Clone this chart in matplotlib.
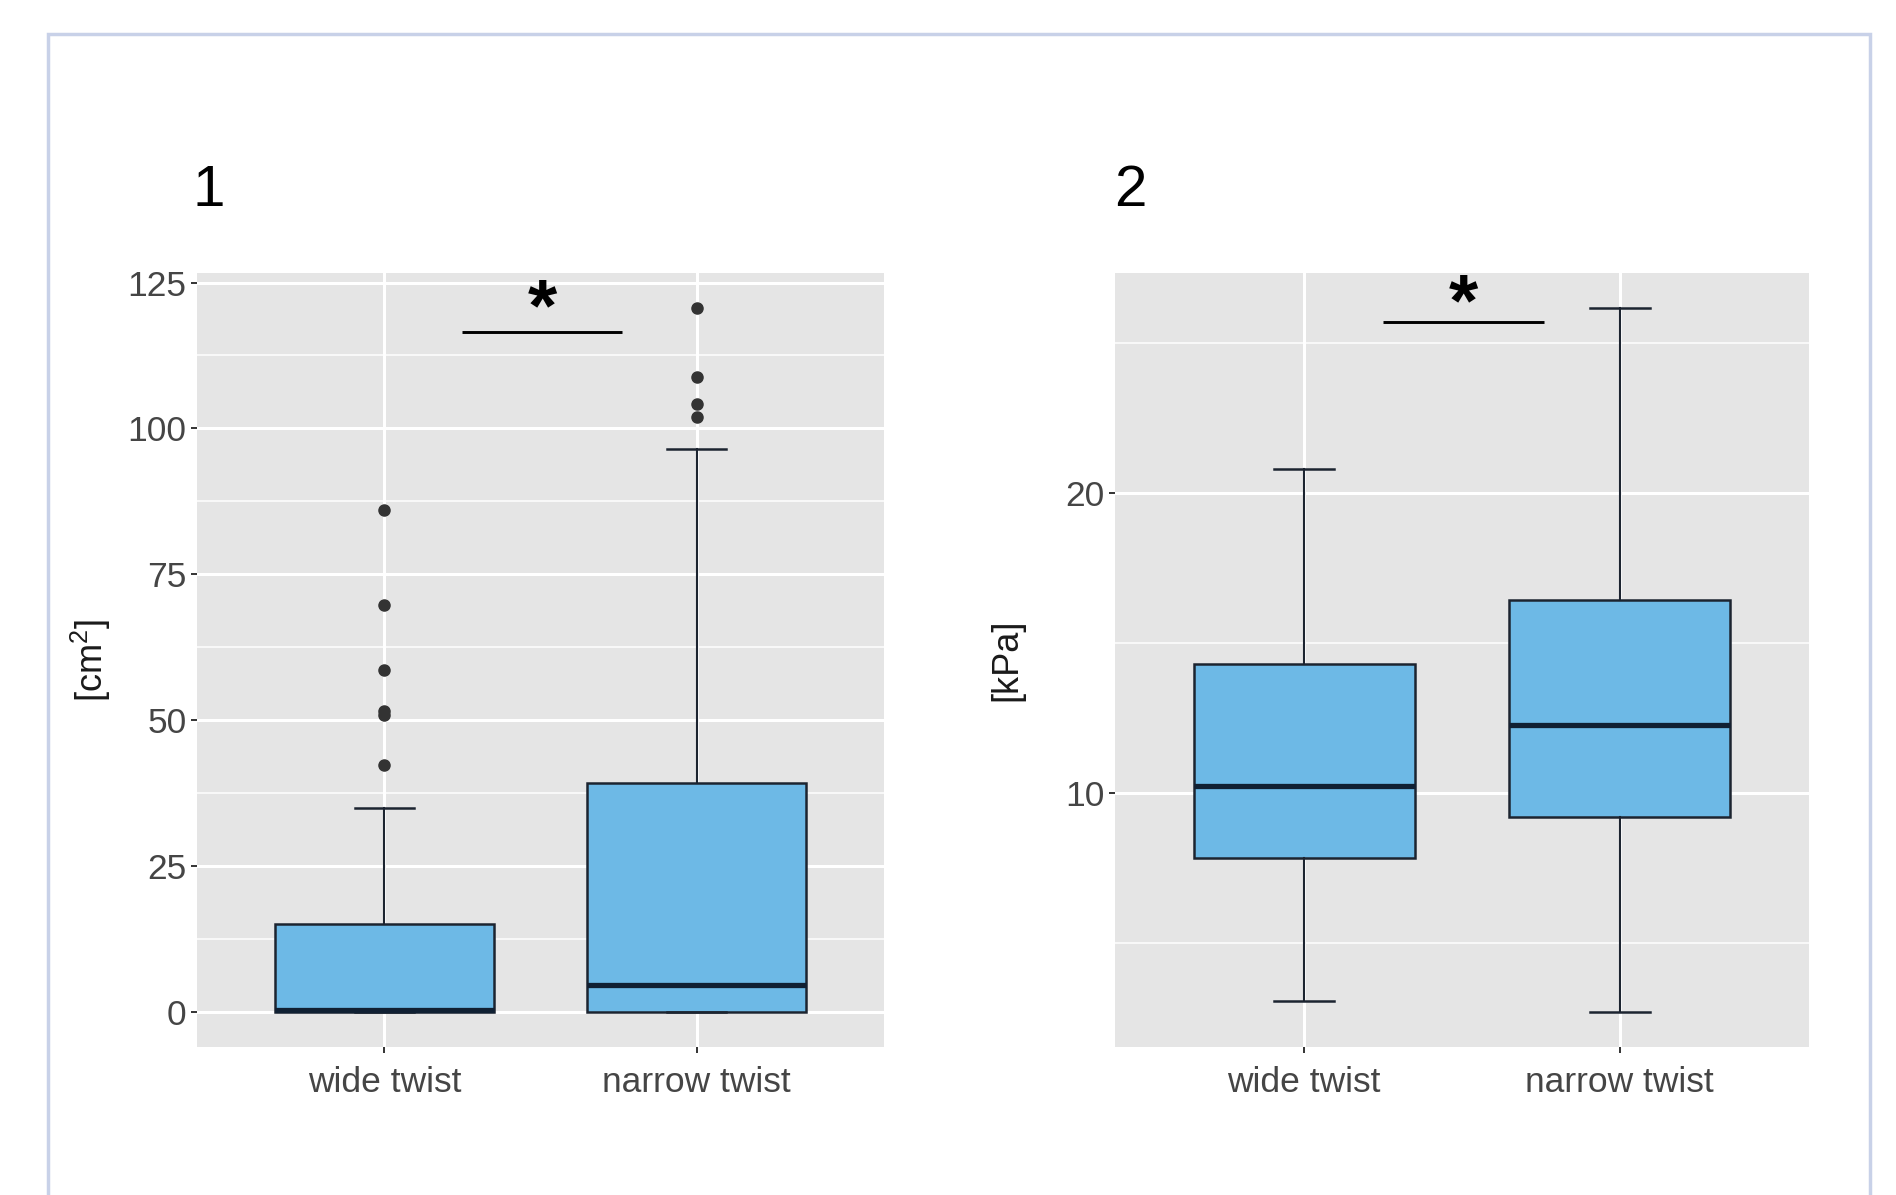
import numpy as np
import matplotlib
matplotlib.use("Agg")
import matplotlib.pyplot as plt
from matplotlib.patches import Rectangle

plt.rcParams["font.family"] = ["Liberation Sans", "DejaVu Sans"]
plt.rcParams["mathtext.fontset"] = "custom"
plt.rcParams["mathtext.rm"] = "Liberation Sans"
plt.rcParams["mathtext.default"] = "regular"

# ---- data ----
categories = ["wide twist", "narrow twist"]

# panel 1: area [cm^2]
area_q1 = [0.0, 0.0]
area_med = [0.25, 4.6]
area_q3 = [15.0, 39.2]
area_lo = [0.0, 0.0]
area_hi = [34.9, 96.4]
area_fliers = [[42.3, 50.9, 51.6, 58.6, 69.8, 86.0],
               [102.0, 104.2, 108.8, 120.6]]
area_ticks = [0, 25, 50, 75, 100, 125]
area_minor = [12.5, 37.5, 62.5, 87.5, 112.5]
area_sig_y = 116.6

# panel 2: pressure [kPa]
kpa_q1 = [7.82, 9.18]
kpa_med = [10.23, 12.27]
kpa_q3 = [14.3, 16.42]
kpa_lo = [3.06, 2.7]
kpa_hi = [20.78, 26.15]
kpa_fliers = [[], []]
kpa_ticks = [10, 20]
kpa_minor = [5, 15, 25]
kpa_sig_y = 25.68

BOX_FILL = "#6DB9E6"
BOX_EDGE = "#1c2430"
MED_COL = "#102033"
PANEL_BG = "#E5E5E5"


def make_stats(q1, med, q3, lo, hi, fliers):
    return [dict(q1=a, med=b, q3=c, whislo=d, whishi=e, fliers=f, label=n)
            for a, b, c, d, e, f, n in zip(q1, med, q3, lo, hi, fliers, categories)]


def draw_panel(ax, stats, ticks, minor, ylabel, label_x, sig_y, star_off):
    ax.set_facecolor(PANEL_BG)
    for s in ax.spines.values():
        s.set_visible(False)
    ax.set_axisbelow(True)

    pos = np.arange(1, len(stats) + 1)
    ax.bxp(stats, positions=pos, widths=0.7, capwidths=0.19, patch_artist=True,
           boxprops=dict(facecolor=BOX_FILL, edgecolor=BOX_EDGE, linewidth=1.8),
           medianprops=dict(color=MED_COL, linewidth=3.8, solid_capstyle="butt"),
           whiskerprops=dict(color=BOX_EDGE, linewidth=1.5),
           capprops=dict(color=BOX_EDGE, linewidth=1.8),
           flierprops=dict(marker="o", markerfacecolor="#333333",
                           markeredgecolor="#333333", markersize=8))

    # ggplot-like 5% expansion of the data range
    vals = []
    for s in stats:
        vals += [s["whislo"], s["whishi"], s["q1"], s["q3"]] + list(s["fliers"])
    lo, hi = min(vals), max(vals)
    pad = 0.05 * (hi - lo)
    ax.set_ylim(lo - pad, hi + pad)
    ax.set_xlim(0.4, len(stats) + 0.6)

    ax.set_yticks(ticks)
    ax.set_yticks(minor, minor=True)
    ax.set_xticks(pos)
    ax.set_xticklabels(categories)
    ax.grid(True, which="major", color="white", linewidth=2.2)
    ax.grid(True, which="minor", axis="y", color="white", linewidth=1.1)
    ax.tick_params(axis="both", which="major", labelsize=25.5, labelcolor="#454545",
                   color="#333333", length=4.5, width=1.4, pad=3)
    ax.tick_params(axis="x", which="major", pad=9)
    ax.tick_params(axis="y", which="minor", length=0)
    ax.set_ylabel(ylabel, fontsize=26, color="#1a1a1a", va="center")
    ax.yaxis.set_label_coords(label_x, 0.5)

    # significance bar
    ax.plot([1.25, 1.76], [sig_y, sig_y], color="black", linewidth=2.1,
            solid_capstyle="butt")
    ax.text(1.505, sig_y + star_off, "*", ha="center", va="center",
            fontsize=54, fontweight="bold", color="black")


fig = plt.figure(figsize=(18.96, 11.95), dpi=100)
fig.patch.set_facecolor("white")

ax1 = fig.add_axes([197 / 1896, 1 - 1047 / 1195, 687 / 1896, 774 / 1195])
ax2 = fig.add_axes([1115 / 1896, 1 - 1047 / 1195, 694 / 1896, 774 / 1195])

draw_panel(ax1, make_stats(area_q1, area_med, area_q3, area_lo, area_hi, area_fliers),
           area_ticks, area_minor, "[cm$^2$]", -0.154, area_sig_y, 3.6)
draw_panel(ax2, make_stats(kpa_q1, kpa_med, kpa_q3, kpa_lo, kpa_hi, kpa_fliers),
           kpa_ticks, kpa_minor, "[kPa]", -0.156, kpa_sig_y, 0.55)

fig.text(209 / 1896, 1 - 191 / 1195, "1", fontsize=42, ha="center", va="center")
fig.text(1130 / 1896, 1 - 191 / 1195, "2", fontsize=42, ha="center", va="center")

# outer frame
fig.patches.append(Rectangle((48 / 1896, -0.05), (1870 - 48) / 1896, 1.05 - 34 / 1195,
                             transform=fig.transFigure, fill=False,
                             edgecolor="#C8D1E8", linewidth=2.5))

fig.savefig("out.png", dpi=100, facecolor="white")
